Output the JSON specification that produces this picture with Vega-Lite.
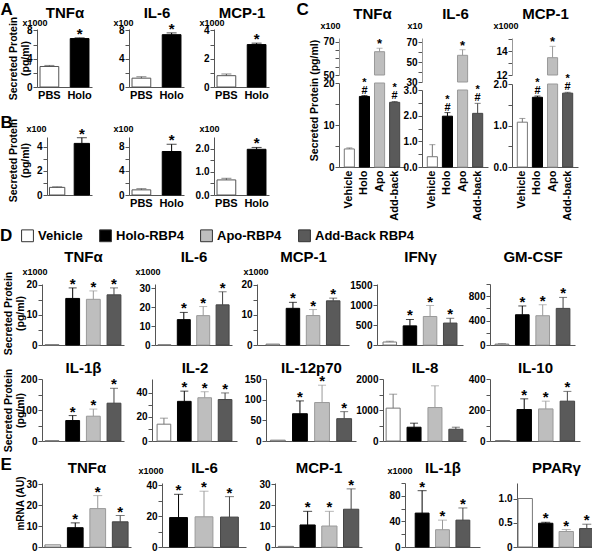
{
"$schema": "https://vega.github.io/schema/vega-lite/v6.json",
"width": 592, "height": 552, "autosize": {"type": "none"}, "padding": 0,
"datasets": {
"A": [
{"p":"TNFα","g":"PBS","v":2.9,"e":3.05,"s":""},
{"p":"TNFα","g":"Holo","v":6.85,"e":6.95,"s":"*"},
{"p":"IL-6","g":"PBS","v":1.25,"e":1.45,"s":""},
{"p":"IL-6","g":"Holo","v":7.4,"e":7.65,"s":"*"},
{"p":"MCP-1","g":"PBS","v":0.8,"e":0.92,"s":""},
{"p":"MCP-1","g":"Holo","v":3.0,"e":3.1,"s":"*"}
],
"B": [
{"p":"TNFα","g":"PBS","v":0.63,"e":0.68,"s":""},
{"p":"TNFα","g":"Holo","v":4.27,"e":4.74,"s":"*"},
{"p":"IL-6","g":"PBS","v":0.85,"e":1.05,"s":""},
{"p":"IL-6","g":"Holo","v":7.2,"e":8.4,"s":"*"},
{"p":"MCP-1","g":"PBS","v":0.65,"e":0.72,"s":""},
{"p":"MCP-1","g":"Holo","v":1.97,"e":2.05,"s":"*"}
],
"C": [
{"p":"TNFα","g":"Vehicle","v":4.3,"e":4.55,"s":""},
{"p":"TNFα","g":"Holo","v":16.8,"e":17.0,"s":"*\n#"},
{"p":"TNFα","g":"Apo","v":64.1,"e":66.2,"s":"*"},
{"p":"TNFα","g":"Add-back","v":15.4,"e":15.6,"s":"*\n#"},
{"p":"IL-6","g":"Vehicle","v":0.4,"e":0.87,"s":""},
{"p":"IL-6","g":"Holo","v":1.98,"e":2.12,"s":"*\n#"},
{"p":"IL-6","g":"Apo","v":56.7,"e":62.3,"s":"*"},
{"p":"IL-6","g":"Add-back","v":2.09,"e":2.48,"s":"*\n#"},
{"p":"MCP-1","g":"Vehicle","v":1.08,"e":1.17,"s":""},
{"p":"MCP-1","g":"Holo","v":1.68,"e":1.71,"s":"*\n#"},
{"p":"MCP-1","g":"Apo","v":13.45,"e":14.4,"s":"*"},
{"p":"MCP-1","g":"Add-back","v":1.78,"e":1.8,"s":"*\n#"}
],
"D": [
{"p":"TNFα","g":"Vehicle","v":0.1,"e":null,"s":""},
{"p":"TNFα","g":"Holo-RBP4","v":15.5,"e":19.0,"s":"*"},
{"p":"TNFα","g":"Apo-RBP4","v":15.2,"e":18.0,"s":"*"},
{"p":"TNFα","g":"Add-Back RBP4","v":16.7,"e":19.0,"s":"*"},
{"p":"IL-6","g":"Vehicle","v":0.1,"e":null,"s":""},
{"p":"IL-6","g":"Holo-RBP4","v":13.4,"e":17.2,"s":"*"},
{"p":"IL-6","g":"Apo-RBP4","v":15.5,"e":20.3,"s":"*"},
{"p":"IL-6","g":"Add-Back RBP4","v":21.2,"e":28.1,"s":"*"},
{"p":"MCP-1","g":"Vehicle","v":0.3,"e":null,"s":""},
{"p":"MCP-1","g":"Holo-RBP4","v":12.2,"e":14.2,"s":"*"},
{"p":"MCP-1","g":"Apo-RBP4","v":9.8,"e":11.8,"s":"*"},
{"p":"MCP-1","g":"Add-Back RBP4","v":14.7,"e":15.6,"s":"*"},
{"p":"IFNγ","g":"Vehicle","v":75,"e":95,"s":""},
{"p":"IFNγ","g":"Holo-RBP4","v":480,"e":640,"s":"*"},
{"p":"IFNγ","g":"Apo-RBP4","v":715,"e":990,"s":"*"},
{"p":"IFNγ","g":"Add-Back RBP4","v":550,"e":670,"s":"*"},
{"p":"GM-CSF","g":"Vehicle","v":15,"e":25,"s":""},
{"p":"GM-CSF","g":"Holo-RBP4","v":496,"e":640,"s":"*"},
{"p":"GM-CSF","g":"Apo-RBP4","v":480,"e":660,"s":"*"},
{"p":"GM-CSF","g":"Add-Back RBP4","v":600,"e":780,"s":"*"},
{"p":"IL-1β","g":"Vehicle","v":1,"e":null,"s":""},
{"p":"IL-1β","g":"Holo-RBP4","v":66,"e":82,"s":"*"},
{"p":"IL-1β","g":"Apo-RBP4","v":80,"e":103,"s":"*"},
{"p":"IL-1β","g":"Add-Back RBP4","v":122,"e":170,"s":"*"},
{"p":"IL-2","g":"Vehicle","v":14,"e":19,"s":""},
{"p":"IL-2","g":"Holo-RBP4","v":33,"e":41.5,"s":"*"},
{"p":"IL-2","g":"Apo-RBP4","v":36,"e":41,"s":"*"},
{"p":"IL-2","g":"Add-Back RBP4","v":34.5,"e":40,"s":"*"},
{"p":"IL-12p70","g":"Vehicle","v":2,"e":null,"s":""},
{"p":"IL-12p70","g":"Holo-RBP4","v":66,"e":97,"s":"*"},
{"p":"IL-12p70","g":"Apo-RBP4","v":93,"e":135,"s":"*"},
{"p":"IL-12p70","g":"Add-Back RBP4","v":54,"e":71,"s":"*"},
{"p":"IL-8","g":"Vehicle","v":1060,"e":1510,"s":""},
{"p":"IL-8","g":"Holo-RBP4","v":445,"e":575,"s":""},
{"p":"IL-8","g":"Apo-RBP4","v":1080,"e":1780,"s":""},
{"p":"IL-8","g":"Add-Back RBP4","v":380,"e":445,"s":""},
{"p":"IL-10","g":"Vehicle","v":3,"e":null,"s":""},
{"p":"IL-10","g":"Holo-RBP4","v":203,"e":272,"s":"*"},
{"p":"IL-10","g":"Apo-RBP4","v":207,"e":257,"s":"*"},
{"p":"IL-10","g":"Add-Back RBP4","v":257,"e":320,"s":"*"}
],
"E": [
{"p":"TNFα","g":"Vehicle","v":1.0,"e":null,"s":""},
{"p":"TNFα","g":"Holo-RBP4","v":9.2,"e":11.5,"s":"*"},
{"p":"TNFα","g":"Apo-RBP4","v":18.3,"e":24.5,"s":"*"},
{"p":"TNFα","g":"Add-Back RBP4","v":12,"e":15,"s":"*"},
{"p":"IL-6","g":"Vehicle","v":0,"e":null,"s":""},
{"p":"IL-6","g":"Holo-RBP4","v":19,"e":34,"s":"*"},
{"p":"IL-6","g":"Apo-RBP4","v":19.5,"e":36,"s":"*"},
{"p":"IL-6","g":"Add-Back RBP4","v":19.3,"e":32.5,"s":"*"},
{"p":"MCP-1","g":"Vehicle","v":0.3,"e":null,"s":""},
{"p":"MCP-1","g":"Holo-RBP4","v":10.5,"e":17,"s":"*"},
{"p":"MCP-1","g":"Apo-RBP4","v":10,"e":17,"s":"*"},
{"p":"MCP-1","g":"Add-Back RBP4","v":18,"e":27.7,"s":"*"},
{"p":"IL-1β","g":"Vehicle","v":0,"e":null,"s":""},
{"p":"IL-1β","g":"Holo-RBP4","v":53,"e":88,"s":"*"},
{"p":"IL-1β","g":"Apo-RBP4","v":27,"e":42,"s":"*"},
{"p":"IL-1β","g":"Add-Back RBP4","v":42,"e":61,"s":"*"},
{"p":"PPARγ","g":"Vehicle","v":1.0,"e":null,"s":""},
{"p":"PPARγ","g":"Holo-RBP4","v":0.49,"e":0.51,"s":"*"},
{"p":"PPARγ","g":"Apo-RBP4","v":0.32,"e":0.36,"s":"*"},
{"p":"PPARγ","g":"Add-Back RBP4","v":0.38,"e":0.47,"s":"*"}
]
},
"resolve": {"scale": {"x": "independent", "y": "independent", "fill": "independent"}, "axis": {"x": "independent", "y": "independent"}, "legend": {"fill": "independent"}},
"layer": [

{"data":{"name":"A"},"transform":[{"filter":"datum.p=='TNFα'"}],"resolve":{"axis":{"x":"independent","y":"independent"}},"layer":[
{"mark":{"type":"bar","strokeWidth":1},"encoding":{
"x":{"field":"g","type":"nominal","sort":null,"scale":{"domain":["PBS","Holo"],"range":[37,92],"paddingInner":0.38,"paddingOuter":0.1},"axis":{"orient":"bottom","offset":-465,"title":"TNFα","titleY":-70}},
"y":{"field":"v","type":"quantitative","scale":{"domain":[0,8.2],"range":[87,29],"nice":false},"axis":{"orient":"left","offset":-37,"values":[0,2,4,6,8],"labelExpr":"datum.value%4==0?datum.label:''","title":"x1000","titleAngle":0,"titleAlign":"left","titleBaseline":"alphabetic","titleX":-15,"titleY":25}},
"fill":{"field":"g","type":"nominal","scale":{"domain":["PBS","Vehicle","Holo","Apo","Add-back","Holo-RBP4","Apo-RBP4","Add-Back RBP4"],"range":["#ffffff","#ffffff","#000000","#bebebe","#5a5a5a","#000000","#bebebe","#5a5a5a"]},"legend":null},
"stroke":{"field":"g","type":"nominal","scale":{"domain":["PBS","Vehicle","Holo","Apo","Add-back","Holo-RBP4","Apo-RBP4","Add-Back RBP4"],"range":["#555555","#777777","#000000","#999999","#444444","#000000","#999999","#444444"]},"legend":null}}},
{"transform":[{"filter":"datum.e!=null"}],"mark":{"type":"rule","strokeWidth":1},"encoding":{"x":{"field":"g","type":"nominal","sort":null,"axis":null},"y":{"field":"v","type":"quantitative","axis":null},"y2":{"field":"e"},"color":{"field":"g","type":"nominal","scale":{"domain":["PBS","Vehicle","Holo","Apo","Add-back","Holo-RBP4","Apo-RBP4","Add-Back RBP4"],"range":["#555555","#777777","#000000","#999999","#444444","#000000","#999999","#444444"]},"legend":null}}},
{"transform":[{"filter":"datum.e!=null"}],"mark":{"type":"tick","size":10,"thickness":1},"encoding":{"x":{"field":"g","type":"nominal","sort":null,"axis":null},"y":{"field":"e","type":"quantitative","axis":null},"color":{"field":"g","type":"nominal","scale":{"domain":["PBS","Vehicle","Holo","Apo","Add-back","Holo-RBP4","Apo-RBP4","Add-Back RBP4"],"range":["#555555","#777777","#000000","#999999","#444444","#000000","#999999","#444444"]},"legend":null}}},
{"transform":[{"filter":"datum.s!=''"}],"mark":{"type":"text","fontSize":15,"fontWeight":"bold","baseline":"bottom","dy":4},"encoding":{
"x":{"field":"g","type":"nominal","sort":null,"axis":{"orient":"bottom","offset":-465,"domain":false,"ticks":false,"labels":false,"title":"A","titleX":0,"titleY":-73,"titleAlign":"left","titleFontSize":17}},
"y":{"field":"e","type":"quantitative","axis":{"orient":"left","offset":-37,"domain":false,"ticks":false,"labels":false,"title":["Secreted Protein","(pg/ml)"],"titleAlign":"center","titleBaseline":"top","titleX":-29,"titleY":58,"titleFontSize":10.5,"titleLineHeight":12}},
"text":{"field":"s"}}}
]},

{"data":{"name":"A"},"transform":[{"filter":"datum.p=='IL-6'"}],"resolve":{"axis":{"x":"independent","y":"independent"}},"layer":[
{"mark":{"type":"bar","strokeWidth":1},"encoding":{
"x":{"field":"g","type":"nominal","sort":null,"scale":{"domain":["PBS","Holo"],"range":[129,184],"paddingInner":0.38,"paddingOuter":0.1},"axis":{"orient":"bottom","offset":-465,"title":"IL-6","titleY":-70}},
"y":{"field":"v","type":"quantitative","scale":{"domain":[0,8.2],"range":[87,29],"nice":false},"axis":{"orient":"left","offset":-129,"values":[0,2,4,6,8],"labelExpr":"datum.value%4==0?datum.label:''","title":"x100","titleAngle":0,"titleAlign":"left","titleBaseline":"alphabetic","titleX":-16,"titleY":25}},
"fill":{"field":"g","type":"nominal","scale":{"domain":["PBS","Vehicle","Holo","Apo","Add-back","Holo-RBP4","Apo-RBP4","Add-Back RBP4"],"range":["#ffffff","#ffffff","#000000","#bebebe","#5a5a5a","#000000","#bebebe","#5a5a5a"]},"legend":null},
"stroke":{"field":"g","type":"nominal","scale":{"domain":["PBS","Vehicle","Holo","Apo","Add-back","Holo-RBP4","Apo-RBP4","Add-Back RBP4"],"range":["#555555","#777777","#000000","#999999","#444444","#000000","#999999","#444444"]},"legend":null}}},
{"transform":[{"filter":"datum.e!=null"}],"mark":{"type":"rule","strokeWidth":1},"encoding":{"x":{"field":"g","type":"nominal","sort":null,"axis":null},"y":{"field":"v","type":"quantitative","axis":null},"y2":{"field":"e"},"color":{"field":"g","type":"nominal","scale":{"domain":["PBS","Vehicle","Holo","Apo","Add-back","Holo-RBP4","Apo-RBP4","Add-Back RBP4"],"range":["#555555","#777777","#000000","#999999","#444444","#000000","#999999","#444444"]},"legend":null}}},
{"transform":[{"filter":"datum.e!=null"}],"mark":{"type":"tick","size":10,"thickness":1},"encoding":{"x":{"field":"g","type":"nominal","sort":null,"axis":null},"y":{"field":"e","type":"quantitative","axis":null},"color":{"field":"g","type":"nominal","scale":{"domain":["PBS","Vehicle","Holo","Apo","Add-back","Holo-RBP4","Apo-RBP4","Add-Back RBP4"],"range":["#555555","#777777","#000000","#999999","#444444","#000000","#999999","#444444"]},"legend":null}}},
{"transform":[{"filter":"datum.s!=''"}],"mark":{"type":"text","fontSize":15,"fontWeight":"bold","baseline":"bottom","dy":4},"encoding":{"x":{"field":"g","type":"nominal","sort":null,"axis":null},"y":{"field":"e","type":"quantitative","axis":null},"text":{"field":"s"}}}
]},

{"data":{"name":"A"},"transform":[{"filter":"datum.p=='MCP-1'"}],"resolve":{"axis":{"x":"independent","y":"independent"}},"layer":[
{"mark":{"type":"bar","strokeWidth":1},"encoding":{
"x":{"field":"g","type":"nominal","sort":null,"scale":{"domain":["PBS","Holo"],"range":[214,269],"paddingInner":0.38,"paddingOuter":0.1},"axis":{"orient":"bottom","offset":-465,"title":"MCP-1","titleY":-70}},
"y":{"field":"v","type":"quantitative","scale":{"domain":[0,4.1],"range":[87,29],"nice":false},"axis":{"orient":"left","offset":-214,"values":[0,1,2,3,4],"labelExpr":"datum.value%2==0?datum.label:''","title":"x1000","titleAngle":0,"titleAlign":"left","titleBaseline":"alphabetic","titleX":-15,"titleY":25}},
"fill":{"field":"g","type":"nominal","scale":{"domain":["PBS","Vehicle","Holo","Apo","Add-back","Holo-RBP4","Apo-RBP4","Add-Back RBP4"],"range":["#ffffff","#ffffff","#000000","#bebebe","#5a5a5a","#000000","#bebebe","#5a5a5a"]},"legend":null},
"stroke":{"field":"g","type":"nominal","scale":{"domain":["PBS","Vehicle","Holo","Apo","Add-back","Holo-RBP4","Apo-RBP4","Add-Back RBP4"],"range":["#555555","#777777","#000000","#999999","#444444","#000000","#999999","#444444"]},"legend":null}}},
{"transform":[{"filter":"datum.e!=null"}],"mark":{"type":"rule","strokeWidth":1},"encoding":{"x":{"field":"g","type":"nominal","sort":null,"axis":null},"y":{"field":"v","type":"quantitative","axis":null},"y2":{"field":"e"},"color":{"field":"g","type":"nominal","scale":{"domain":["PBS","Vehicle","Holo","Apo","Add-back","Holo-RBP4","Apo-RBP4","Add-Back RBP4"],"range":["#555555","#777777","#000000","#999999","#444444","#000000","#999999","#444444"]},"legend":null}}},
{"transform":[{"filter":"datum.e!=null"}],"mark":{"type":"tick","size":10,"thickness":1},"encoding":{"x":{"field":"g","type":"nominal","sort":null,"axis":null},"y":{"field":"e","type":"quantitative","axis":null},"color":{"field":"g","type":"nominal","scale":{"domain":["PBS","Vehicle","Holo","Apo","Add-back","Holo-RBP4","Apo-RBP4","Add-Back RBP4"],"range":["#555555","#777777","#000000","#999999","#444444","#000000","#999999","#444444"]},"legend":null}}},
{"transform":[{"filter":"datum.s!=''"}],"mark":{"type":"text","fontSize":15,"fontWeight":"bold","baseline":"bottom","dy":4},"encoding":{"x":{"field":"g","type":"nominal","sort":null,"axis":null},"y":{"field":"e","type":"quantitative","axis":null},"text":{"field":"s"}}}
]},

{"data":{"name":"B"},"transform":[{"filter":"datum.p=='TNFα'"}],"resolve":{"axis":{"x":"independent","y":"independent"}},"layer":[
{"mark":{"type":"bar","strokeWidth":1},"encoding":{
"x":{"field":"g","type":"nominal","sort":null,"scale":{"domain":["PBS","Holo"],"range":[47,92],"paddingInner":0.38,"paddingOuter":0.1},"axis":{"orient":"bottom","offset":-357,"labels":false,"title":null}},
"y":{"field":"v","type":"quantitative","scale":{"domain":[0,4.8],"range":[195,137],"nice":false},"axis":{"orient":"left","offset":-47,"values":[0,1,2,3,4],"labelExpr":"datum.value%2==0?datum.label:''","title":"x100","titleAngle":0,"titleAlign":"left","titleBaseline":"alphabetic","titleX":-21,"titleY":131}},
"fill":{"field":"g","type":"nominal","scale":{"domain":["PBS","Vehicle","Holo","Apo","Add-back","Holo-RBP4","Apo-RBP4","Add-Back RBP4"],"range":["#ffffff","#ffffff","#000000","#bebebe","#5a5a5a","#000000","#bebebe","#5a5a5a"]},"legend":null},
"stroke":{"field":"g","type":"nominal","scale":{"domain":["PBS","Vehicle","Holo","Apo","Add-back","Holo-RBP4","Apo-RBP4","Add-Back RBP4"],"range":["#555555","#777777","#000000","#999999","#444444","#000000","#999999","#444444"]},"legend":null}}},
{"transform":[{"filter":"datum.e!=null"}],"mark":{"type":"rule","strokeWidth":1},"encoding":{"x":{"field":"g","type":"nominal","sort":null,"axis":null},"y":{"field":"v","type":"quantitative","axis":null},"y2":{"field":"e"},"color":{"field":"g","type":"nominal","scale":{"domain":["PBS","Vehicle","Holo","Apo","Add-back","Holo-RBP4","Apo-RBP4","Add-Back RBP4"],"range":["#555555","#777777","#000000","#999999","#444444","#000000","#999999","#444444"]},"legend":null}}},
{"transform":[{"filter":"datum.e!=null"}],"mark":{"type":"tick","size":10,"thickness":1},"encoding":{"x":{"field":"g","type":"nominal","sort":null,"axis":null},"y":{"field":"e","type":"quantitative","axis":null},"color":{"field":"g","type":"nominal","scale":{"domain":["PBS","Vehicle","Holo","Apo","Add-back","Holo-RBP4","Apo-RBP4","Add-Back RBP4"],"range":["#555555","#777777","#000000","#999999","#444444","#000000","#999999","#444444"]},"legend":null}}},
{"transform":[{"filter":"datum.s!=''"}],"mark":{"type":"text","fontSize":15,"fontWeight":"bold","baseline":"bottom","dy":4},"encoding":{
"x":{"field":"g","type":"nominal","sort":null,"axis":{"orient":"bottom","offset":-357,"domain":false,"ticks":false,"labels":false,"title":"B","titleX":0,"titleY":-68,"titleAlign":"left","titleFontSize":17}},
"y":{"field":"e","type":"quantitative","axis":{"orient":"left","offset":-47,"domain":false,"ticks":false,"labels":false,"title":["Secreted Protein","(pg/ml)"],"titleAlign":"center","titleBaseline":"top","titleX":-39,"titleY":160,"titleFontSize":10.5,"titleLineHeight":12}},
"text":{"field":"s"}}}
]},

{"data":{"name":"B"},"transform":[{"filter":"datum.p=='IL-6'"}],"resolve":{"axis":{"x":"independent","y":"independent"}},"layer":[
{"mark":{"type":"bar","strokeWidth":1},"encoding":{
"x":{"field":"g","type":"nominal","sort":null,"scale":{"domain":["PBS","Holo"],"range":[129,184],"paddingInner":0.38,"paddingOuter":0.1},"axis":{"orient":"bottom","offset":-357,"title":null}},
"y":{"field":"v","type":"quantitative","scale":{"domain":[0,9.6],"range":[195,137],"nice":false},"axis":{"orient":"left","offset":-129,"values":[0,2,4,6,8],"labelExpr":"datum.value%4==0?datum.label:''","title":"x100","titleAngle":0,"titleAlign":"left","titleBaseline":"alphabetic","titleX":-16,"titleY":131}},
"fill":{"field":"g","type":"nominal","scale":{"domain":["PBS","Vehicle","Holo","Apo","Add-back","Holo-RBP4","Apo-RBP4","Add-Back RBP4"],"range":["#ffffff","#ffffff","#000000","#bebebe","#5a5a5a","#000000","#bebebe","#5a5a5a"]},"legend":null},
"stroke":{"field":"g","type":"nominal","scale":{"domain":["PBS","Vehicle","Holo","Apo","Add-back","Holo-RBP4","Apo-RBP4","Add-Back RBP4"],"range":["#555555","#777777","#000000","#999999","#444444","#000000","#999999","#444444"]},"legend":null}}},
{"transform":[{"filter":"datum.e!=null"}],"mark":{"type":"rule","strokeWidth":1},"encoding":{"x":{"field":"g","type":"nominal","sort":null,"axis":null},"y":{"field":"v","type":"quantitative","axis":null},"y2":{"field":"e"},"color":{"field":"g","type":"nominal","scale":{"domain":["PBS","Vehicle","Holo","Apo","Add-back","Holo-RBP4","Apo-RBP4","Add-Back RBP4"],"range":["#555555","#777777","#000000","#999999","#444444","#000000","#999999","#444444"]},"legend":null}}},
{"transform":[{"filter":"datum.e!=null"}],"mark":{"type":"tick","size":10,"thickness":1},"encoding":{"x":{"field":"g","type":"nominal","sort":null,"axis":null},"y":{"field":"e","type":"quantitative","axis":null},"color":{"field":"g","type":"nominal","scale":{"domain":["PBS","Vehicle","Holo","Apo","Add-back","Holo-RBP4","Apo-RBP4","Add-Back RBP4"],"range":["#555555","#777777","#000000","#999999","#444444","#000000","#999999","#444444"]},"legend":null}}},
{"transform":[{"filter":"datum.s!=''"}],"mark":{"type":"text","fontSize":15,"fontWeight":"bold","baseline":"bottom","dy":4},"encoding":{"x":{"field":"g","type":"nominal","sort":null,"axis":null},"y":{"field":"e","type":"quantitative","axis":null},"text":{"field":"s"}}}
]},

{"data":{"name":"B"},"transform":[{"filter":"datum.p=='MCP-1'"}],"resolve":{"axis":{"x":"independent","y":"independent"}},"layer":[
{"mark":{"type":"bar","strokeWidth":1},"encoding":{
"x":{"field":"g","type":"nominal","sort":null,"scale":{"domain":["PBS","Holo"],"range":[214,269],"paddingInner":0.38,"paddingOuter":0.1},"axis":{"orient":"bottom","offset":-357,"title":null}},
"y":{"field":"v","type":"quantitative","scale":{"domain":[0,2.5],"range":[195,137],"nice":false},"axis":{"orient":"left","offset":-214,"values":[0,0.5,1,1.5,2],"labelExpr":"datum.value%1==0?datum.label:''","title":"x100","titleAngle":0,"titleAlign":"left","titleBaseline":"alphabetic","titleX":-15,"titleY":131}},
"fill":{"field":"g","type":"nominal","scale":{"domain":["PBS","Vehicle","Holo","Apo","Add-back","Holo-RBP4","Apo-RBP4","Add-Back RBP4"],"range":["#ffffff","#ffffff","#000000","#bebebe","#5a5a5a","#000000","#bebebe","#5a5a5a"]},"legend":null},
"stroke":{"field":"g","type":"nominal","scale":{"domain":["PBS","Vehicle","Holo","Apo","Add-back","Holo-RBP4","Apo-RBP4","Add-Back RBP4"],"range":["#555555","#777777","#000000","#999999","#444444","#000000","#999999","#444444"]},"legend":null}}},
{"transform":[{"filter":"datum.e!=null"}],"mark":{"type":"rule","strokeWidth":1},"encoding":{"x":{"field":"g","type":"nominal","sort":null,"axis":null},"y":{"field":"v","type":"quantitative","axis":null},"y2":{"field":"e"},"color":{"field":"g","type":"nominal","scale":{"domain":["PBS","Vehicle","Holo","Apo","Add-back","Holo-RBP4","Apo-RBP4","Add-Back RBP4"],"range":["#555555","#777777","#000000","#999999","#444444","#000000","#999999","#444444"]},"legend":null}}},
{"transform":[{"filter":"datum.e!=null"}],"mark":{"type":"tick","size":10,"thickness":1},"encoding":{"x":{"field":"g","type":"nominal","sort":null,"axis":null},"y":{"field":"e","type":"quantitative","axis":null},"color":{"field":"g","type":"nominal","scale":{"domain":["PBS","Vehicle","Holo","Apo","Add-back","Holo-RBP4","Apo-RBP4","Add-Back RBP4"],"range":["#555555","#777777","#000000","#999999","#444444","#000000","#999999","#444444"]},"legend":null}}},
{"transform":[{"filter":"datum.s!=''"}],"mark":{"type":"text","fontSize":15,"fontWeight":"bold","baseline":"bottom","dy":4},"encoding":{"x":{"field":"g","type":"nominal","sort":null,"axis":null},"y":{"field":"e","type":"quantitative","axis":null},"text":{"field":"s"}}}
]},

{"data":{"name":"C"},"transform":[{"filter":"datum.p=='TNFα' && datum.g=='Apo'"}],"resolve":{"axis":{"x":"independent","y":"independent"}},"layer":[
{"mark":{"type":"bar","strokeWidth":1},"encoding":{
"x":{"field":"g","type":"nominal","sort":null,"scale":{"domain":["Vehicle","Holo","Apo","Add-back"],"range":[339,405],"paddingInner":0.33,"paddingOuter":0.35},"axis":null},
"y":{"field":"v","type":"quantitative","scale":{"domain":[50,72.4],"range":[75,38],"nice":false,"zero":false,"clamp":true},"axis":{"orient":"left","offset":-339,"values":[50,55,60,65,70],"labelExpr":"datum.value%20==10?datum.label:''","title":"x100","titleAngle":0,"titleAlign":"left","titleBaseline":"alphabetic","titleX":-19,"titleY":28,"domainColor":"#999"}},
"y2":{"datum":50},
"fill":{"field":"g","type":"nominal","scale":{"domain":["PBS","Vehicle","Holo","Apo","Add-back","Holo-RBP4","Apo-RBP4","Add-Back RBP4"],"range":["#ffffff","#ffffff","#000000","#bebebe","#5a5a5a","#000000","#bebebe","#5a5a5a"]},"legend":null},
"stroke":{"field":"g","type":"nominal","scale":{"domain":["PBS","Vehicle","Holo","Apo","Add-back","Holo-RBP4","Apo-RBP4","Add-Back RBP4"],"range":["#555555","#777777","#000000","#999999","#444444","#000000","#999999","#444444"]},"legend":null}}},
{"mark":{"type":"rule","strokeWidth":1},"encoding":{"x":{"field":"g","type":"nominal","sort":null,"axis":null},"y":{"field":"v","type":"quantitative","axis":null},"y2":{"field":"e"},"color":{"field":"g","type":"nominal","scale":{"domain":["PBS","Vehicle","Holo","Apo","Add-back","Holo-RBP4","Apo-RBP4","Add-Back RBP4"],"range":["#555555","#777777","#000000","#999999","#444444","#000000","#999999","#444444"]},"legend":null}}},
{"mark":{"type":"tick","size":6,"thickness":1},"encoding":{"x":{"field":"g","type":"nominal","sort":null,"axis":null},"y":{"field":"e","type":"quantitative","axis":null},"color":{"field":"g","type":"nominal","scale":{"domain":["PBS","Vehicle","Holo","Apo","Add-back","Holo-RBP4","Apo-RBP4","Add-Back RBP4"],"range":["#555555","#777777","#000000","#999999","#444444","#000000","#999999","#444444"]},"legend":null}}},
{"mark":{"type":"text","fontSize":13,"fontWeight":"bold","baseline":"bottom","dy":3},"encoding":{"x":{"field":"g","type":"nominal","sort":null,"axis":null},"y":{"field":"e","type":"quantitative","axis":null},"text":{"field":"s"}}}
]},

{"data":{"name":"C"},"transform":[{"filter":"datum.p=='TNFα'"}],"resolve":{"axis":{"x":"independent","y":"independent"}},"layer":[
{"mark":{"type":"bar","strokeWidth":1},"encoding":{
"x":{"field":"g","type":"nominal","sort":null,"scale":{"domain":["Vehicle","Holo","Apo","Add-back"],"range":[339,405],"paddingInner":0.33,"paddingOuter":0.35},"axis":{"orient":"bottom","offset":-385,"labelAngle":-90,"labelPadding":3,"title":"TNFα","titleY":-149}},
"y":{"field":"v","type":"quantitative","scale":{"domain":[0,20],"range":[167,83],"nice":false,"clamp":true},"axis":{"orient":"left","offset":-339,"values":[0,5,10,15,20],"labelExpr":"datum.value%10==0?datum.label:''","title":null}},
"fill":{"field":"g","type":"nominal","scale":{"domain":["PBS","Vehicle","Holo","Apo","Add-back","Holo-RBP4","Apo-RBP4","Add-Back RBP4"],"range":["#ffffff","#ffffff","#000000","#bebebe","#5a5a5a","#000000","#bebebe","#5a5a5a"]},"legend":null},
"stroke":{"field":"g","type":"nominal","scale":{"domain":["PBS","Vehicle","Holo","Apo","Add-back","Holo-RBP4","Apo-RBP4","Add-Back RBP4"],"range":["#555555","#777777","#000000","#999999","#444444","#000000","#999999","#444444"]},"legend":null}}},
{"transform":[{"filter":"datum.e!=null && datum.g!='Apo'"}],"mark":{"type":"rule","strokeWidth":1},"encoding":{"x":{"field":"g","type":"nominal","sort":null,"axis":null},"y":{"field":"v","type":"quantitative","axis":null},"y2":{"field":"e"},"color":{"field":"g","type":"nominal","scale":{"domain":["PBS","Vehicle","Holo","Apo","Add-back","Holo-RBP4","Apo-RBP4","Add-Back RBP4"],"range":["#555555","#777777","#000000","#999999","#444444","#000000","#999999","#444444"]},"legend":null}}},
{"transform":[{"filter":"datum.e!=null && datum.g!='Apo'"}],"mark":{"type":"tick","size":6,"thickness":1},"encoding":{"x":{"field":"g","type":"nominal","sort":null,"axis":null},"y":{"field":"e","type":"quantitative","axis":null},"color":{"field":"g","type":"nominal","scale":{"domain":["PBS","Vehicle","Holo","Apo","Add-back","Holo-RBP4","Apo-RBP4","Add-Back RBP4"],"range":["#555555","#777777","#000000","#999999","#444444","#000000","#999999","#444444"]},"legend":null}}},
{"transform":[{"filter":"datum.s!='' && datum.g!='Apo'"}],"mark":{"type":"text","fontSize":11,"fontWeight":"bold","baseline":"bottom","dy":-8,"lineBreak":"\n","lineHeight":8},"encoding":{
"x":{"field":"g","type":"nominal","sort":null,"axis":{"orient":"bottom","offset":-385,"domain":false,"ticks":false,"labels":false,"title":"C","titleX":296,"titleY":-153,"titleAlign":"left","titleFontSize":17}},
"y":{"field":"e","type":"quantitative","axis":{"orient":"left","offset":-339,"domain":false,"ticks":false,"labels":false,"title":"Secreted Protein (pg/ml)","titleAlign":"center","titleBaseline":"top","titleX":-30,"titleY":100,"titleFontSize":10.5}},
"text":{"field":"s"}}}
]},

{"data":{"name":"C"},"transform":[{"filter":"datum.p=='IL-6' && datum.g=='Apo'"}],"resolve":{"axis":{"x":"independent","y":"independent"}},"layer":[
{"mark":{"type":"bar","strokeWidth":1},"encoding":{
"x":{"field":"g","type":"nominal","sort":null,"scale":{"domain":["Vehicle","Holo","Apo","Add-back"],"range":[422,488],"paddingInner":0.33,"paddingOuter":0.35},"axis":null},
"y":{"field":"v","type":"quantitative","scale":{"domain":[30,74],"range":[82,38],"nice":false,"zero":false,"clamp":true},"axis":{"orient":"left","offset":-422,"values":[30,40,50,60,70],"labelExpr":"datum.value%20==10?datum.label:''","title":"x10","titleAngle":0,"titleAlign":"left","titleBaseline":"alphabetic","titleX":-15,"titleY":28,"domainColor":"#999"}},
"y2":{"datum":30},
"fill":{"field":"g","type":"nominal","scale":{"domain":["PBS","Vehicle","Holo","Apo","Add-back","Holo-RBP4","Apo-RBP4","Add-Back RBP4"],"range":["#ffffff","#ffffff","#000000","#bebebe","#5a5a5a","#000000","#bebebe","#5a5a5a"]},"legend":null},
"stroke":{"field":"g","type":"nominal","scale":{"domain":["PBS","Vehicle","Holo","Apo","Add-back","Holo-RBP4","Apo-RBP4","Add-Back RBP4"],"range":["#555555","#777777","#000000","#999999","#444444","#000000","#999999","#444444"]},"legend":null}}},
{"mark":{"type":"rule","strokeWidth":1},"encoding":{"x":{"field":"g","type":"nominal","sort":null,"axis":null},"y":{"field":"v","type":"quantitative","axis":null},"y2":{"field":"e"},"color":{"field":"g","type":"nominal","scale":{"domain":["PBS","Vehicle","Holo","Apo","Add-back","Holo-RBP4","Apo-RBP4","Add-Back RBP4"],"range":["#555555","#777777","#000000","#999999","#444444","#000000","#999999","#444444"]},"legend":null}}},
{"mark":{"type":"tick","size":6,"thickness":1},"encoding":{"x":{"field":"g","type":"nominal","sort":null,"axis":null},"y":{"field":"e","type":"quantitative","axis":null},"color":{"field":"g","type":"nominal","scale":{"domain":["PBS","Vehicle","Holo","Apo","Add-back","Holo-RBP4","Apo-RBP4","Add-Back RBP4"],"range":["#555555","#777777","#000000","#999999","#444444","#000000","#999999","#444444"]},"legend":null}}},
{"mark":{"type":"text","fontSize":13,"fontWeight":"bold","baseline":"bottom","dy":3},"encoding":{"x":{"field":"g","type":"nominal","sort":null,"axis":null},"y":{"field":"e","type":"quantitative","axis":null},"text":{"field":"s"}}}
]},

{"data":{"name":"C"},"transform":[{"filter":"datum.p=='IL-6'"}],"resolve":{"axis":{"x":"independent","y":"independent"}},"layer":[
{"mark":{"type":"bar","strokeWidth":1},"encoding":{
"x":{"field":"g","type":"nominal","sort":null,"scale":{"domain":["Vehicle","Holo","Apo","Add-back"],"range":[422,488],"paddingInner":0.33,"paddingOuter":0.35},"axis":{"orient":"bottom","offset":-385,"labelAngle":-90,"labelPadding":3,"title":"IL-6","titleY":-149}},
"y":{"field":"v","type":"quantitative","scale":{"domain":[0,3],"range":[167,90],"nice":false,"clamp":true},"axis":{"orient":"left","offset":-422,"values":[0,0.5,1,1.5,2,2.5,3],"labelExpr":"datum.value%1==0?datum.label:''","title":null}},
"fill":{"field":"g","type":"nominal","scale":{"domain":["PBS","Vehicle","Holo","Apo","Add-back","Holo-RBP4","Apo-RBP4","Add-Back RBP4"],"range":["#ffffff","#ffffff","#000000","#bebebe","#5a5a5a","#000000","#bebebe","#5a5a5a"]},"legend":null},
"stroke":{"field":"g","type":"nominal","scale":{"domain":["PBS","Vehicle","Holo","Apo","Add-back","Holo-RBP4","Apo-RBP4","Add-Back RBP4"],"range":["#555555","#777777","#000000","#999999","#444444","#000000","#999999","#444444"]},"legend":null}}},
{"transform":[{"filter":"datum.e!=null && datum.g!='Apo'"}],"mark":{"type":"rule","strokeWidth":1},"encoding":{"x":{"field":"g","type":"nominal","sort":null,"axis":null},"y":{"field":"v","type":"quantitative","axis":null},"y2":{"field":"e"},"color":{"field":"g","type":"nominal","scale":{"domain":["PBS","Vehicle","Holo","Apo","Add-back","Holo-RBP4","Apo-RBP4","Add-Back RBP4"],"range":["#555555","#777777","#000000","#999999","#444444","#000000","#999999","#444444"]},"legend":null}}},
{"transform":[{"filter":"datum.e!=null && datum.g!='Apo'"}],"mark":{"type":"tick","size":6,"thickness":1},"encoding":{"x":{"field":"g","type":"nominal","sort":null,"axis":null},"y":{"field":"e","type":"quantitative","axis":null},"color":{"field":"g","type":"nominal","scale":{"domain":["PBS","Vehicle","Holo","Apo","Add-back","Holo-RBP4","Apo-RBP4","Add-Back RBP4"],"range":["#555555","#777777","#000000","#999999","#444444","#000000","#999999","#444444"]},"legend":null}}},
{"transform":[{"filter":"datum.s!='' && datum.g!='Apo'"}],"mark":{"type":"text","fontSize":11,"fontWeight":"bold","baseline":"bottom","dy":-8,"lineBreak":"\n","lineHeight":8},"encoding":{"x":{"field":"g","type":"nominal","sort":null,"axis":null},"y":{"field":"e","type":"quantitative","axis":null},"text":{"field":"s"}}}
]},

{"data":{"name":"C"},"transform":[{"filter":"datum.p=='MCP-1' && datum.g=='Apo'"}],"resolve":{"axis":{"x":"independent","y":"independent"}},"layer":[
{"mark":{"type":"bar","strokeWidth":1},"encoding":{
"x":{"field":"g","type":"nominal","sort":null,"scale":{"domain":["Vehicle","Holo","Apo","Add-back"],"range":[512,578],"paddingInner":0.33,"paddingOuter":0.35},"axis":null},
"y":{"field":"v","type":"quantitative","scale":{"domain":[12,15.1],"range":[75,38],"nice":false,"zero":false,"clamp":true},"axis":{"orient":"left","offset":-512,"values":[12,13,14,15],"labelExpr":"datum.value%2==0?datum.label:''","title":"x1000","titleAngle":0,"titleAlign":"left","titleBaseline":"alphabetic","titleX":-19,"titleY":28,"domainColor":"#999"}},
"y2":{"datum":12},
"fill":{"field":"g","type":"nominal","scale":{"domain":["PBS","Vehicle","Holo","Apo","Add-back","Holo-RBP4","Apo-RBP4","Add-Back RBP4"],"range":["#ffffff","#ffffff","#000000","#bebebe","#5a5a5a","#000000","#bebebe","#5a5a5a"]},"legend":null},
"stroke":{"field":"g","type":"nominal","scale":{"domain":["PBS","Vehicle","Holo","Apo","Add-back","Holo-RBP4","Apo-RBP4","Add-Back RBP4"],"range":["#555555","#777777","#000000","#999999","#444444","#000000","#999999","#444444"]},"legend":null}}},
{"mark":{"type":"rule","strokeWidth":1},"encoding":{"x":{"field":"g","type":"nominal","sort":null,"axis":null},"y":{"field":"v","type":"quantitative","axis":null},"y2":{"field":"e"},"color":{"field":"g","type":"nominal","scale":{"domain":["PBS","Vehicle","Holo","Apo","Add-back","Holo-RBP4","Apo-RBP4","Add-Back RBP4"],"range":["#555555","#777777","#000000","#999999","#444444","#000000","#999999","#444444"]},"legend":null}}},
{"mark":{"type":"tick","size":6,"thickness":1},"encoding":{"x":{"field":"g","type":"nominal","sort":null,"axis":null},"y":{"field":"e","type":"quantitative","axis":null},"color":{"field":"g","type":"nominal","scale":{"domain":["PBS","Vehicle","Holo","Apo","Add-back","Holo-RBP4","Apo-RBP4","Add-Back RBP4"],"range":["#555555","#777777","#000000","#999999","#444444","#000000","#999999","#444444"]},"legend":null}}},
{"mark":{"type":"text","fontSize":13,"fontWeight":"bold","baseline":"bottom","dy":3},"encoding":{"x":{"field":"g","type":"nominal","sort":null,"axis":null},"y":{"field":"e","type":"quantitative","axis":null},"text":{"field":"s"}}}
]},

{"data":{"name":"C"},"transform":[{"filter":"datum.p=='MCP-1'"}],"resolve":{"axis":{"x":"independent","y":"independent"}},"layer":[
{"mark":{"type":"bar","strokeWidth":1},"encoding":{
"x":{"field":"g","type":"nominal","sort":null,"scale":{"domain":["Vehicle","Holo","Apo","Add-back"],"range":[512,578],"paddingInner":0.33,"paddingOuter":0.35},"axis":{"orient":"bottom","offset":-385,"labelAngle":-90,"labelPadding":3,"title":"MCP-1","titleY":-149}},
"y":{"field":"v","type":"quantitative","scale":{"domain":[0,2],"range":[167,84],"nice":false,"clamp":true},"axis":{"orient":"left","offset":-512,"values":[0,0.5,1,1.5,2],"labelExpr":"datum.value%1==0?datum.label:''","title":null}},
"fill":{"field":"g","type":"nominal","scale":{"domain":["PBS","Vehicle","Holo","Apo","Add-back","Holo-RBP4","Apo-RBP4","Add-Back RBP4"],"range":["#ffffff","#ffffff","#000000","#bebebe","#5a5a5a","#000000","#bebebe","#5a5a5a"]},"legend":null},
"stroke":{"field":"g","type":"nominal","scale":{"domain":["PBS","Vehicle","Holo","Apo","Add-back","Holo-RBP4","Apo-RBP4","Add-Back RBP4"],"range":["#555555","#777777","#000000","#999999","#444444","#000000","#999999","#444444"]},"legend":null}}},
{"transform":[{"filter":"datum.e!=null && datum.g!='Apo'"}],"mark":{"type":"rule","strokeWidth":1},"encoding":{"x":{"field":"g","type":"nominal","sort":null,"axis":null},"y":{"field":"v","type":"quantitative","axis":null},"y2":{"field":"e"},"color":{"field":"g","type":"nominal","scale":{"domain":["PBS","Vehicle","Holo","Apo","Add-back","Holo-RBP4","Apo-RBP4","Add-Back RBP4"],"range":["#555555","#777777","#000000","#999999","#444444","#000000","#999999","#444444"]},"legend":null}}},
{"transform":[{"filter":"datum.e!=null && datum.g!='Apo'"}],"mark":{"type":"tick","size":6,"thickness":1},"encoding":{"x":{"field":"g","type":"nominal","sort":null,"axis":null},"y":{"field":"e","type":"quantitative","axis":null},"color":{"field":"g","type":"nominal","scale":{"domain":["PBS","Vehicle","Holo","Apo","Add-back","Holo-RBP4","Apo-RBP4","Add-Back RBP4"],"range":["#555555","#777777","#000000","#999999","#444444","#000000","#999999","#444444"]},"legend":null}}},
{"transform":[{"filter":"datum.s!='' && datum.g!='Apo'"}],"mark":{"type":"text","fontSize":11,"fontWeight":"bold","baseline":"bottom","dy":-8,"lineBreak":"\n","lineHeight":8},"encoding":{"x":{"field":"g","type":"nominal","sort":null,"axis":null},"y":{"field":"e","type":"quantitative","axis":null},"text":{"field":"s"}}}
]},

{"data":{"name":"D"},"transform":[{"filter":"datum.p=='TNFα'"}],"resolve":{"axis":{"x":"independent","y":"independent"}},"layer":[
{"mark":{"type":"bar","strokeWidth":1},"encoding":{
"x":{"field":"g","type":"nominal","sort":null,"scale":{"domain":["Vehicle","Holo-RBP4","Apo-RBP4","Add-Back RBP4"],"range":[42,124],"paddingInner":0.33,"paddingOuter":0.15},"axis":{"orient":"bottom","offset":-207,"labels":false,"title":"TNFα","titleY":-84}},
"y":{"field":"v","type":"quantitative","scale":{"domain":[0,20.3],"range":[345,284],"nice":false},"axis":{"orient":"left","offset":-42,"values":[0,5,10,15,20],"labelExpr":"datum.value%10==0?datum.label:''","title":"x1000","titleAngle":0,"titleAlign":"left","titleBaseline":"alphabetic","titleX":-20,"titleY":274}},
"fill":{"field":"g","type":"nominal","scale":{"domain":["PBS","Vehicle","Holo","Apo","Add-back","Holo-RBP4","Apo-RBP4","Add-Back RBP4"],"range":["#ffffff","#ffffff","#000000","#bebebe","#5a5a5a","#000000","#bebebe","#5a5a5a"]},
"legend":{"title":"D","titleOrient":"left","titleFontSize":17,"titleFontWeight":"bold","titleColor":"#000","titlePadding":8,"orient":"none","legendX":0,"legendY":229,"direction":"horizontal","values":["Vehicle","Holo-RBP4","Apo-RBP4","Add-Back RBP4"],"symbolType":"square","symbolSize":140,"symbolStrokeColor":"#333","symbolStrokeWidth":1,"labelFontSize":13,"labelFontWeight":"bold","labelColor":"#000","columnPadding":14,"labelOffset":4}},
"stroke":{"field":"g","type":"nominal","scale":{"domain":["PBS","Vehicle","Holo","Apo","Add-back","Holo-RBP4","Apo-RBP4","Add-Back RBP4"],"range":["#555555","#777777","#000000","#999999","#444444","#000000","#999999","#444444"]},"legend":null}}},
{"transform":[{"filter":"datum.e!=null"}],"mark":{"type":"rule","strokeWidth":1},"encoding":{"x":{"field":"g","type":"nominal","sort":null,"axis":null},"y":{"field":"v","type":"quantitative","axis":null},"y2":{"field":"e"},"color":{"field":"g","type":"nominal","scale":{"domain":["PBS","Vehicle","Holo","Apo","Add-back","Holo-RBP4","Apo-RBP4","Add-Back RBP4"],"range":["#555555","#777777","#000000","#999999","#444444","#000000","#999999","#444444"]},"legend":null}}},
{"transform":[{"filter":"datum.e!=null"}],"mark":{"type":"tick","size":8,"thickness":1},"encoding":{"x":{"field":"g","type":"nominal","sort":null,"axis":null},"y":{"field":"e","type":"quantitative","axis":null},"color":{"field":"g","type":"nominal","scale":{"domain":["PBS","Vehicle","Holo","Apo","Add-back","Holo-RBP4","Apo-RBP4","Add-Back RBP4"],"range":["#555555","#777777","#000000","#999999","#444444","#000000","#999999","#444444"]},"legend":null}}},
{"transform":[{"filter":"datum.s!=''"}],"mark":{"type":"text","fontSize":15,"fontWeight":"bold","baseline":"bottom","dy":4},"encoding":{
"x":{"field":"g","type":"nominal","sort":null,"axis":null},
"y":{"field":"e","type":"quantitative","axis":{"orient":"left","offset":-42,"domain":false,"ticks":false,"labels":false,"title":["Secreted Protein","(pg/ml)"],"titleAlign":"center","titleBaseline":"top","titleX":-39,"titleY":313,"titleFontSize":10.5,"titleLineHeight":12}},
"text":{"field":"s"}}}
]},

{"data":{"name":"D"},"transform":[{"filter":"datum.p=='IL-6'"}],"resolve":{"axis":{"x":"independent","y":"independent"}},"layer":[
{"mark":{"type":"bar","strokeWidth":1},"encoding":{
"x":{"field":"g","type":"nominal","sort":null,"scale":{"domain":["Vehicle","Holo-RBP4","Apo-RBP4","Add-Back RBP4"],"range":[155,232],"paddingInner":0.33,"paddingOuter":0.15},"axis":{"orient":"bottom","offset":-207,"labels":false,"title":"IL-6","titleY":-84}},
"y":{"field":"v","type":"quantitative","scale":{"domain":[0,32.2],"range":[345,284],"nice":false},"axis":{"orient":"left","offset":-155,"values":[0,10,20,30],"title":"x1000","titleAngle":0,"titleAlign":"left","titleBaseline":"alphabetic","titleX":-20,"titleY":274}},
"fill":{"field":"g","type":"nominal","scale":{"domain":["PBS","Vehicle","Holo","Apo","Add-back","Holo-RBP4","Apo-RBP4","Add-Back RBP4"],"range":["#ffffff","#ffffff","#000000","#bebebe","#5a5a5a","#000000","#bebebe","#5a5a5a"]},"legend":null},
"stroke":{"field":"g","type":"nominal","scale":{"domain":["PBS","Vehicle","Holo","Apo","Add-back","Holo-RBP4","Apo-RBP4","Add-Back RBP4"],"range":["#555555","#777777","#000000","#999999","#444444","#000000","#999999","#444444"]},"legend":null}}},
{"transform":[{"filter":"datum.e!=null"}],"mark":{"type":"rule","strokeWidth":1},"encoding":{"x":{"field":"g","type":"nominal","sort":null,"axis":null},"y":{"field":"v","type":"quantitative","axis":null},"y2":{"field":"e"},"color":{"field":"g","type":"nominal","scale":{"domain":["PBS","Vehicle","Holo","Apo","Add-back","Holo-RBP4","Apo-RBP4","Add-Back RBP4"],"range":["#555555","#777777","#000000","#999999","#444444","#000000","#999999","#444444"]},"legend":null}}},
{"transform":[{"filter":"datum.e!=null"}],"mark":{"type":"tick","size":8,"thickness":1},"encoding":{"x":{"field":"g","type":"nominal","sort":null,"axis":null},"y":{"field":"e","type":"quantitative","axis":null},"color":{"field":"g","type":"nominal","scale":{"domain":["PBS","Vehicle","Holo","Apo","Add-back","Holo-RBP4","Apo-RBP4","Add-Back RBP4"],"range":["#555555","#777777","#000000","#999999","#444444","#000000","#999999","#444444"]},"legend":null}}},
{"transform":[{"filter":"datum.s!=''"}],"mark":{"type":"text","fontSize":15,"fontWeight":"bold","baseline":"bottom","dy":4},"encoding":{"x":{"field":"g","type":"nominal","sort":null,"axis":null},"y":{"field":"e","type":"quantitative","axis":null},"text":{"field":"s"}}}
]},

{"data":{"name":"D"},"transform":[{"filter":"datum.p=='MCP-1'"}],"resolve":{"axis":{"x":"independent","y":"independent"}},"layer":[
{"mark":{"type":"bar","strokeWidth":1},"encoding":{
"x":{"field":"g","type":"nominal","sort":null,"scale":{"domain":["Vehicle","Holo-RBP4","Apo-RBP4","Add-Back RBP4"],"range":[257,349],"paddingInner":0.33,"paddingOuter":0.45},"axis":{"orient":"bottom","offset":-207,"labels":false,"title":"MCP-1","titleY":-84}},
"y":{"field":"v","type":"quantitative","scale":{"domain":[0,20.3],"range":[345,284],"nice":false},"axis":{"orient":"left","offset":-257,"values":[0,5,10,15,20],"labelExpr":"datum.value%10==0?datum.label:''","title":"x1000","titleAngle":0,"titleAlign":"left","titleBaseline":"alphabetic","titleX":-14,"titleY":274}},
"fill":{"field":"g","type":"nominal","scale":{"domain":["PBS","Vehicle","Holo","Apo","Add-back","Holo-RBP4","Apo-RBP4","Add-Back RBP4"],"range":["#ffffff","#ffffff","#000000","#bebebe","#5a5a5a","#000000","#bebebe","#5a5a5a"]},"legend":null},
"stroke":{"field":"g","type":"nominal","scale":{"domain":["PBS","Vehicle","Holo","Apo","Add-back","Holo-RBP4","Apo-RBP4","Add-Back RBP4"],"range":["#555555","#777777","#000000","#999999","#444444","#000000","#999999","#444444"]},"legend":null}}},
{"transform":[{"filter":"datum.e!=null"}],"mark":{"type":"rule","strokeWidth":1},"encoding":{"x":{"field":"g","type":"nominal","sort":null,"axis":null},"y":{"field":"v","type":"quantitative","axis":null},"y2":{"field":"e"},"color":{"field":"g","type":"nominal","scale":{"domain":["PBS","Vehicle","Holo","Apo","Add-back","Holo-RBP4","Apo-RBP4","Add-Back RBP4"],"range":["#555555","#777777","#000000","#999999","#444444","#000000","#999999","#444444"]},"legend":null}}},
{"transform":[{"filter":"datum.e!=null"}],"mark":{"type":"tick","size":8,"thickness":1},"encoding":{"x":{"field":"g","type":"nominal","sort":null,"axis":null},"y":{"field":"e","type":"quantitative","axis":null},"color":{"field":"g","type":"nominal","scale":{"domain":["PBS","Vehicle","Holo","Apo","Add-back","Holo-RBP4","Apo-RBP4","Add-Back RBP4"],"range":["#555555","#777777","#000000","#999999","#444444","#000000","#999999","#444444"]},"legend":null}}},
{"transform":[{"filter":"datum.s!=''"}],"mark":{"type":"text","fontSize":15,"fontWeight":"bold","baseline":"bottom","dy":4},"encoding":{"x":{"field":"g","type":"nominal","sort":null,"axis":null},"y":{"field":"e","type":"quantitative","axis":null},"text":{"field":"s"}}}
]},

{"data":{"name":"D"},"transform":[{"filter":"datum.p=='IFNγ'"}],"resolve":{"axis":{"x":"independent","y":"independent"}},"layer":[
{"mark":{"type":"bar","strokeWidth":1},"encoding":{
"x":{"field":"g","type":"nominal","sort":null,"scale":{"domain":["Vehicle","Holo-RBP4","Apo-RBP4","Add-Back RBP4"],"range":[377,463],"paddingInner":0.33,"paddingOuter":0.3},"axis":{"orient":"bottom","offset":-207,"labels":false,"title":"IFNγ","titleY":-84}},
"y":{"field":"v","type":"quantitative","scale":{"domain":[0,1530],"range":[345,284],"nice":false},"axis":{"orient":"left","offset":-377,"values":[0,500,1000,1500],"format":"d","title":null}},
"fill":{"field":"g","type":"nominal","scale":{"domain":["PBS","Vehicle","Holo","Apo","Add-back","Holo-RBP4","Apo-RBP4","Add-Back RBP4"],"range":["#ffffff","#ffffff","#000000","#bebebe","#5a5a5a","#000000","#bebebe","#5a5a5a"]},"legend":null},
"stroke":{"field":"g","type":"nominal","scale":{"domain":["PBS","Vehicle","Holo","Apo","Add-back","Holo-RBP4","Apo-RBP4","Add-Back RBP4"],"range":["#555555","#777777","#000000","#999999","#444444","#000000","#999999","#444444"]},"legend":null}}},
{"transform":[{"filter":"datum.e!=null"}],"mark":{"type":"rule","strokeWidth":1},"encoding":{"x":{"field":"g","type":"nominal","sort":null,"axis":null},"y":{"field":"v","type":"quantitative","axis":null},"y2":{"field":"e"},"color":{"field":"g","type":"nominal","scale":{"domain":["PBS","Vehicle","Holo","Apo","Add-back","Holo-RBP4","Apo-RBP4","Add-Back RBP4"],"range":["#555555","#777777","#000000","#999999","#444444","#000000","#999999","#444444"]},"legend":null}}},
{"transform":[{"filter":"datum.e!=null"}],"mark":{"type":"tick","size":8,"thickness":1},"encoding":{"x":{"field":"g","type":"nominal","sort":null,"axis":null},"y":{"field":"e","type":"quantitative","axis":null},"color":{"field":"g","type":"nominal","scale":{"domain":["PBS","Vehicle","Holo","Apo","Add-back","Holo-RBP4","Apo-RBP4","Add-Back RBP4"],"range":["#555555","#777777","#000000","#999999","#444444","#000000","#999999","#444444"]},"legend":null}}},
{"transform":[{"filter":"datum.s!=''"}],"mark":{"type":"text","fontSize":15,"fontWeight":"bold","baseline":"bottom","dy":4},"encoding":{"x":{"field":"g","type":"nominal","sort":null,"axis":null},"y":{"field":"e","type":"quantitative","axis":null},"text":{"field":"s"}}}
]},

{"data":{"name":"D"},"transform":[{"filter":"datum.p=='GM-CSF'"}],"resolve":{"axis":{"x":"independent","y":"independent"}},"layer":[
{"mark":{"type":"bar","strokeWidth":1},"encoding":{
"x":{"field":"g","type":"nominal","sort":null,"scale":{"domain":["Vehicle","Holo-RBP4","Apo-RBP4","Add-Back RBP4"],"range":[490,575],"paddingInner":0.33,"paddingOuter":0.25},"axis":{"orient":"bottom","offset":-207,"labels":false,"title":"GM-CSF","titleY":-84}},
"y":{"field":"v","type":"quantitative","scale":{"domain":[0,1000],"range":[345,284],"nice":false},"axis":{"orient":"left","offset":-490,"values":[0,200,400,600,800,1000],"labelExpr":"datum.value%400==0?datum.label:''","title":null}},
"fill":{"field":"g","type":"nominal","scale":{"domain":["PBS","Vehicle","Holo","Apo","Add-back","Holo-RBP4","Apo-RBP4","Add-Back RBP4"],"range":["#ffffff","#ffffff","#000000","#bebebe","#5a5a5a","#000000","#bebebe","#5a5a5a"]},"legend":null},
"stroke":{"field":"g","type":"nominal","scale":{"domain":["PBS","Vehicle","Holo","Apo","Add-back","Holo-RBP4","Apo-RBP4","Add-Back RBP4"],"range":["#555555","#777777","#000000","#999999","#444444","#000000","#999999","#444444"]},"legend":null}}},
{"transform":[{"filter":"datum.e!=null"}],"mark":{"type":"rule","strokeWidth":1},"encoding":{"x":{"field":"g","type":"nominal","sort":null,"axis":null},"y":{"field":"v","type":"quantitative","axis":null},"y2":{"field":"e"},"color":{"field":"g","type":"nominal","scale":{"domain":["PBS","Vehicle","Holo","Apo","Add-back","Holo-RBP4","Apo-RBP4","Add-Back RBP4"],"range":["#555555","#777777","#000000","#999999","#444444","#000000","#999999","#444444"]},"legend":null}}},
{"transform":[{"filter":"datum.e!=null"}],"mark":{"type":"tick","size":8,"thickness":1},"encoding":{"x":{"field":"g","type":"nominal","sort":null,"axis":null},"y":{"field":"e","type":"quantitative","axis":null},"color":{"field":"g","type":"nominal","scale":{"domain":["PBS","Vehicle","Holo","Apo","Add-back","Holo-RBP4","Apo-RBP4","Add-Back RBP4"],"range":["#555555","#777777","#000000","#999999","#444444","#000000","#999999","#444444"]},"legend":null}}},
{"transform":[{"filter":"datum.s!=''"}],"mark":{"type":"text","fontSize":15,"fontWeight":"bold","baseline":"bottom","dy":4},"encoding":{"x":{"field":"g","type":"nominal","sort":null,"axis":null},"y":{"field":"e","type":"quantitative","axis":null},"text":{"field":"s"}}}
]},

{"data":{"name":"D"},"transform":[{"filter":"datum.p=='IL-1β'"}],"resolve":{"axis":{"x":"independent","y":"independent"}},"layer":[
{"mark":{"type":"bar","strokeWidth":1},"encoding":{
"x":{"field":"g","type":"nominal","sort":null,"scale":{"domain":["Vehicle","Holo-RBP4","Apo-RBP4","Add-Back RBP4"],"range":[42,124],"paddingInner":0.33,"paddingOuter":0.15},"axis":{"orient":"bottom","offset":-111,"labels":false,"title":"IL-1β","titleY":-69}},
"y":{"field":"v","type":"quantitative","scale":{"domain":[0,200],"range":[441,379],"nice":false},"axis":{"orient":"left","offset":-42,"values":[0,50,100,150,200],"labelExpr":"datum.value%100==0?datum.label:''","title":null}},
"fill":{"field":"g","type":"nominal","scale":{"domain":["PBS","Vehicle","Holo","Apo","Add-back","Holo-RBP4","Apo-RBP4","Add-Back RBP4"],"range":["#ffffff","#ffffff","#000000","#bebebe","#5a5a5a","#000000","#bebebe","#5a5a5a"]},"legend":null},
"stroke":{"field":"g","type":"nominal","scale":{"domain":["PBS","Vehicle","Holo","Apo","Add-back","Holo-RBP4","Apo-RBP4","Add-Back RBP4"],"range":["#555555","#777777","#000000","#999999","#444444","#000000","#999999","#444444"]},"legend":null}}},
{"transform":[{"filter":"datum.e!=null"}],"mark":{"type":"rule","strokeWidth":1},"encoding":{"x":{"field":"g","type":"nominal","sort":null,"axis":null},"y":{"field":"v","type":"quantitative","axis":null},"y2":{"field":"e"},"color":{"field":"g","type":"nominal","scale":{"domain":["PBS","Vehicle","Holo","Apo","Add-back","Holo-RBP4","Apo-RBP4","Add-Back RBP4"],"range":["#555555","#777777","#000000","#999999","#444444","#000000","#999999","#444444"]},"legend":null}}},
{"transform":[{"filter":"datum.e!=null"}],"mark":{"type":"tick","size":8,"thickness":1},"encoding":{"x":{"field":"g","type":"nominal","sort":null,"axis":null},"y":{"field":"e","type":"quantitative","axis":null},"color":{"field":"g","type":"nominal","scale":{"domain":["PBS","Vehicle","Holo","Apo","Add-back","Holo-RBP4","Apo-RBP4","Add-Back RBP4"],"range":["#555555","#777777","#000000","#999999","#444444","#000000","#999999","#444444"]},"legend":null}}},
{"transform":[{"filter":"datum.s!=''"}],"mark":{"type":"text","fontSize":15,"fontWeight":"bold","baseline":"bottom","dy":4},"encoding":{
"x":{"field":"g","type":"nominal","sort":null,"axis":null},
"y":{"field":"e","type":"quantitative","axis":{"orient":"left","offset":-42,"domain":false,"ticks":false,"labels":false,"title":["Secreted Protein","(pg/ml)"],"titleAlign":"center","titleBaseline":"top","titleX":-39,"titleY":410,"titleFontSize":10.5,"titleLineHeight":12}},
"text":{"field":"s"}}}
]},

{"data":{"name":"D"},"transform":[{"filter":"datum.p=='IL-2'"}],"resolve":{"axis":{"x":"independent","y":"independent"}},"layer":[
{"mark":{"type":"bar","strokeWidth":1},"encoding":{
"x":{"field":"g","type":"nominal","sort":null,"scale":{"domain":["Vehicle","Holo-RBP4","Apo-RBP4","Add-Back RBP4"],"range":[152,237],"paddingInner":0.33,"paddingOuter":0.25},"axis":{"orient":"bottom","offset":-111,"labels":false,"title":"IL-2","titleY":-69}},
"y":{"field":"v","type":"quantitative","scale":{"domain":[0,51.6],"range":[441,379],"nice":false},"axis":{"orient":"left","offset":-152,"values":[0,10,20,30,40],"labelExpr":"datum.value%20==0?datum.label:''","title":null}},
"fill":{"field":"g","type":"nominal","scale":{"domain":["PBS","Vehicle","Holo","Apo","Add-back","Holo-RBP4","Apo-RBP4","Add-Back RBP4"],"range":["#ffffff","#ffffff","#000000","#bebebe","#5a5a5a","#000000","#bebebe","#5a5a5a"]},"legend":null},
"stroke":{"field":"g","type":"nominal","scale":{"domain":["PBS","Vehicle","Holo","Apo","Add-back","Holo-RBP4","Apo-RBP4","Add-Back RBP4"],"range":["#555555","#777777","#000000","#999999","#444444","#000000","#999999","#444444"]},"legend":null}}},
{"transform":[{"filter":"datum.e!=null"}],"mark":{"type":"rule","strokeWidth":1},"encoding":{"x":{"field":"g","type":"nominal","sort":null,"axis":null},"y":{"field":"v","type":"quantitative","axis":null},"y2":{"field":"e"},"color":{"field":"g","type":"nominal","scale":{"domain":["PBS","Vehicle","Holo","Apo","Add-back","Holo-RBP4","Apo-RBP4","Add-Back RBP4"],"range":["#555555","#777777","#000000","#999999","#444444","#000000","#999999","#444444"]},"legend":null}}},
{"transform":[{"filter":"datum.e!=null"}],"mark":{"type":"tick","size":8,"thickness":1},"encoding":{"x":{"field":"g","type":"nominal","sort":null,"axis":null},"y":{"field":"e","type":"quantitative","axis":null},"color":{"field":"g","type":"nominal","scale":{"domain":["PBS","Vehicle","Holo","Apo","Add-back","Holo-RBP4","Apo-RBP4","Add-Back RBP4"],"range":["#555555","#777777","#000000","#999999","#444444","#000000","#999999","#444444"]},"legend":null}}},
{"transform":[{"filter":"datum.s!=''"}],"mark":{"type":"text","fontSize":15,"fontWeight":"bold","baseline":"bottom","dy":4},"encoding":{"x":{"field":"g","type":"nominal","sort":null,"axis":null},"y":{"field":"e","type":"quantitative","axis":null},"text":{"field":"s"}}}
]},

{"data":{"name":"D"},"transform":[{"filter":"datum.p=='IL-12p70'"}],"resolve":{"axis":{"x":"independent","y":"independent"}},"layer":[
{"mark":{"type":"bar","strokeWidth":1},"encoding":{
"x":{"field":"g","type":"nominal","sort":null,"scale":{"domain":["Vehicle","Holo-RBP4","Apo-RBP4","Add-Back RBP4"],"range":[266,356],"paddingInner":0.33,"paddingOuter":0.2},"axis":{"orient":"bottom","offset":-111,"labels":false,"title":"IL-12p70","titleY":-69}},
"y":{"field":"v","type":"quantitative","scale":{"domain":[0,150],"range":[441,379],"nice":false},"axis":{"orient":"left","offset":-266,"values":[0,50,100,150],"title":null}},
"fill":{"field":"g","type":"nominal","scale":{"domain":["PBS","Vehicle","Holo","Apo","Add-back","Holo-RBP4","Apo-RBP4","Add-Back RBP4"],"range":["#ffffff","#ffffff","#000000","#bebebe","#5a5a5a","#000000","#bebebe","#5a5a5a"]},"legend":null},
"stroke":{"field":"g","type":"nominal","scale":{"domain":["PBS","Vehicle","Holo","Apo","Add-back","Holo-RBP4","Apo-RBP4","Add-Back RBP4"],"range":["#555555","#777777","#000000","#999999","#444444","#000000","#999999","#444444"]},"legend":null}}},
{"transform":[{"filter":"datum.e!=null"}],"mark":{"type":"rule","strokeWidth":1},"encoding":{"x":{"field":"g","type":"nominal","sort":null,"axis":null},"y":{"field":"v","type":"quantitative","axis":null},"y2":{"field":"e"},"color":{"field":"g","type":"nominal","scale":{"domain":["PBS","Vehicle","Holo","Apo","Add-back","Holo-RBP4","Apo-RBP4","Add-Back RBP4"],"range":["#555555","#777777","#000000","#999999","#444444","#000000","#999999","#444444"]},"legend":null}}},
{"transform":[{"filter":"datum.e!=null"}],"mark":{"type":"tick","size":8,"thickness":1},"encoding":{"x":{"field":"g","type":"nominal","sort":null,"axis":null},"y":{"field":"e","type":"quantitative","axis":null},"color":{"field":"g","type":"nominal","scale":{"domain":["PBS","Vehicle","Holo","Apo","Add-back","Holo-RBP4","Apo-RBP4","Add-Back RBP4"],"range":["#555555","#777777","#000000","#999999","#444444","#000000","#999999","#444444"]},"legend":null}}},
{"transform":[{"filter":"datum.s!=''"}],"mark":{"type":"text","fontSize":15,"fontWeight":"bold","baseline":"bottom","dy":4},"encoding":{"x":{"field":"g","type":"nominal","sort":null,"axis":null},"y":{"field":"e","type":"quantitative","axis":null},"text":{"field":"s"}}}
]},

{"data":{"name":"D"},"transform":[{"filter":"datum.p=='IL-8'"}],"resolve":{"axis":{"x":"independent","y":"independent"}},"layer":[
{"mark":{"type":"bar","strokeWidth":1},"encoding":{
"x":{"field":"g","type":"nominal","sort":null,"scale":{"domain":["Vehicle","Holo-RBP4","Apo-RBP4","Add-Back RBP4"],"range":[383,466],"paddingInner":0.33,"paddingOuter":0.15},"axis":{"orient":"bottom","offset":-111,"labels":false,"title":"IL-8","titleY":-69}},
"y":{"field":"v","type":"quantitative","scale":{"domain":[0,2000],"range":[441,379],"nice":false},"axis":{"orient":"left","offset":-383,"values":[0,500,1000,1500,2000],"labelExpr":"datum.value%1000==0?format(datum.value,'d'):''","title":null}},
"fill":{"field":"g","type":"nominal","scale":{"domain":["PBS","Vehicle","Holo","Apo","Add-back","Holo-RBP4","Apo-RBP4","Add-Back RBP4"],"range":["#ffffff","#ffffff","#000000","#bebebe","#5a5a5a","#000000","#bebebe","#5a5a5a"]},"legend":null},
"stroke":{"field":"g","type":"nominal","scale":{"domain":["PBS","Vehicle","Holo","Apo","Add-back","Holo-RBP4","Apo-RBP4","Add-Back RBP4"],"range":["#555555","#777777","#000000","#999999","#444444","#000000","#999999","#444444"]},"legend":null}}},
{"transform":[{"filter":"datum.e!=null"}],"mark":{"type":"rule","strokeWidth":1},"encoding":{"x":{"field":"g","type":"nominal","sort":null,"axis":null},"y":{"field":"v","type":"quantitative","axis":null},"y2":{"field":"e"},"color":{"field":"g","type":"nominal","scale":{"domain":["PBS","Vehicle","Holo","Apo","Add-back","Holo-RBP4","Apo-RBP4","Add-Back RBP4"],"range":["#555555","#777777","#000000","#999999","#444444","#000000","#999999","#444444"]},"legend":null}}},
{"transform":[{"filter":"datum.e!=null"}],"mark":{"type":"tick","size":8,"thickness":1},"encoding":{"x":{"field":"g","type":"nominal","sort":null,"axis":null},"y":{"field":"e","type":"quantitative","axis":null},"color":{"field":"g","type":"nominal","scale":{"domain":["PBS","Vehicle","Holo","Apo","Add-back","Holo-RBP4","Apo-RBP4","Add-Back RBP4"],"range":["#555555","#777777","#000000","#999999","#444444","#000000","#999999","#444444"]},"legend":null}}}
]},

{"data":{"name":"D"},"transform":[{"filter":"datum.p=='IL-10'"}],"resolve":{"axis":{"x":"independent","y":"independent"}},"layer":[
{"mark":{"type":"bar","strokeWidth":1},"encoding":{
"x":{"field":"g","type":"nominal","sort":null,"scale":{"domain":["Vehicle","Holo-RBP4","Apo-RBP4","Add-Back RBP4"],"range":[490,580],"paddingInner":0.33,"paddingOuter":0.25},"axis":{"orient":"bottom","offset":-111,"labels":false,"title":"IL-10","titleY":-69}},
"y":{"field":"v","type":"quantitative","scale":{"domain":[0,400],"range":[441,379],"nice":false},"axis":{"orient":"left","offset":-490,"values":[0,100,200,300,400],"labelExpr":"datum.value%200==0?datum.label:''","title":null}},
"fill":{"field":"g","type":"nominal","scale":{"domain":["PBS","Vehicle","Holo","Apo","Add-back","Holo-RBP4","Apo-RBP4","Add-Back RBP4"],"range":["#ffffff","#ffffff","#000000","#bebebe","#5a5a5a","#000000","#bebebe","#5a5a5a"]},"legend":null},
"stroke":{"field":"g","type":"nominal","scale":{"domain":["PBS","Vehicle","Holo","Apo","Add-back","Holo-RBP4","Apo-RBP4","Add-Back RBP4"],"range":["#555555","#777777","#000000","#999999","#444444","#000000","#999999","#444444"]},"legend":null}}},
{"transform":[{"filter":"datum.e!=null"}],"mark":{"type":"rule","strokeWidth":1},"encoding":{"x":{"field":"g","type":"nominal","sort":null,"axis":null},"y":{"field":"v","type":"quantitative","axis":null},"y2":{"field":"e"},"color":{"field":"g","type":"nominal","scale":{"domain":["PBS","Vehicle","Holo","Apo","Add-back","Holo-RBP4","Apo-RBP4","Add-Back RBP4"],"range":["#555555","#777777","#000000","#999999","#444444","#000000","#999999","#444444"]},"legend":null}}},
{"transform":[{"filter":"datum.e!=null"}],"mark":{"type":"tick","size":8,"thickness":1},"encoding":{"x":{"field":"g","type":"nominal","sort":null,"axis":null},"y":{"field":"e","type":"quantitative","axis":null},"color":{"field":"g","type":"nominal","scale":{"domain":["PBS","Vehicle","Holo","Apo","Add-back","Holo-RBP4","Apo-RBP4","Add-Back RBP4"],"range":["#555555","#777777","#000000","#999999","#444444","#000000","#999999","#444444"]},"legend":null}}},
{"transform":[{"filter":"datum.s!=''"}],"mark":{"type":"text","fontSize":15,"fontWeight":"bold","baseline":"bottom","dy":4},"encoding":{"x":{"field":"g","type":"nominal","sort":null,"axis":null},"y":{"field":"e","type":"quantitative","axis":null},"text":{"field":"s"}}}
]},

{"data":{"name":"E"},"transform":[{"filter":"datum.p=='TNFα'"}],"resolve":{"axis":{"x":"independent","y":"independent"}},"layer":[
{"mark":{"type":"bar","strokeWidth":1},"encoding":{
"x":{"field":"g","type":"nominal","sort":null,"scale":{"domain":["Vehicle","Holo-RBP4","Apo-RBP4","Add-Back RBP4"],"range":[42,131],"paddingInner":0.3,"paddingOuter":0.13},"axis":{"orient":"bottom","offset":-5,"labels":false,"title":"TNFα","titleY":-75}},
"y":{"field":"v","type":"quantitative","scale":{"domain":[0,30.5],"range":[547,483],"nice":false},"axis":{"orient":"left","offset":-42,"values":[0,10,20,30],"title":null}},
"fill":{"field":"g","type":"nominal","scale":{"domain":["PBS","Vehicle","Holo","Apo","Add-back","Holo-RBP4","Apo-RBP4","Add-Back RBP4"],"range":["#ffffff","#ffffff","#000000","#bebebe","#5a5a5a","#000000","#bebebe","#5a5a5a"]},"legend":null},
"stroke":{"field":"g","type":"nominal","scale":{"domain":["PBS","Vehicle","Holo","Apo","Add-back","Holo-RBP4","Apo-RBP4","Add-Back RBP4"],"range":["#555555","#777777","#000000","#999999","#444444","#000000","#999999","#444444"]},"legend":null}}},
{"transform":[{"filter":"datum.e!=null"}],"mark":{"type":"rule","strokeWidth":1},"encoding":{"x":{"field":"g","type":"nominal","sort":null,"axis":null},"y":{"field":"v","type":"quantitative","axis":null},"y2":{"field":"e"},"color":{"field":"g","type":"nominal","scale":{"domain":["PBS","Vehicle","Holo","Apo","Add-back","Holo-RBP4","Apo-RBP4","Add-Back RBP4"],"range":["#555555","#777777","#000000","#999999","#444444","#000000","#999999","#444444"]},"legend":null}}},
{"transform":[{"filter":"datum.e!=null"}],"mark":{"type":"tick","size":9,"thickness":1},"encoding":{"x":{"field":"g","type":"nominal","sort":null,"axis":null},"y":{"field":"e","type":"quantitative","axis":null},"color":{"field":"g","type":"nominal","scale":{"domain":["PBS","Vehicle","Holo","Apo","Add-back","Holo-RBP4","Apo-RBP4","Add-Back RBP4"],"range":["#555555","#777777","#000000","#999999","#444444","#000000","#999999","#444444"]},"legend":null}}},
{"transform":[{"filter":"datum.s!=''"}],"mark":{"type":"text","fontSize":15,"fontWeight":"bold","baseline":"bottom","dy":4},"encoding":{
"x":{"field":"g","type":"nominal","sort":null,"axis":{"orient":"bottom","offset":-5,"domain":false,"ticks":false,"labels":false,"title":"E","titleX":0,"titleY":-78,"titleAlign":"left","titleFontSize":17}},
"y":{"field":"e","type":"quantitative","axis":{"orient":"left","offset":-42,"domain":false,"ticks":false,"labels":false,"title":"mRNA (AU)","titleAlign":"center","titleBaseline":"top","titleX":-27,"titleY":503,"titleFontSize":10}},
"text":{"field":"s"}}}
]},

{"data":{"name":"E"},"transform":[{"filter":"datum.p=='IL-6' && datum.g!='Vehicle'"}],"resolve":{"axis":{"x":"independent","y":"independent"}},"layer":[
{"mark":{"type":"bar","strokeWidth":1},"encoding":{
"x":{"field":"g","type":"nominal","sort":null,"scale":{"domain":["Holo-RBP4","Apo-RBP4","Add-Back RBP4"],"range":[162,246],"paddingInner":0.3,"paddingOuter":0.3},"axis":{"orient":"bottom","offset":-5,"labels":false,"title":"IL-6","titleY":-75}},
"y":{"field":"v","type":"quantitative","scale":{"domain":[0,41.3],"range":[547,483],"nice":false},"axis":{"orient":"left","offset":-162,"values":[0,10,20,30,40],"labelExpr":"datum.value%20==0?datum.label:''","title":"x1000","titleAngle":0,"titleAlign":"left","titleBaseline":"alphabetic","titleX":-24,"titleY":473}},
"fill":{"field":"g","type":"nominal","scale":{"domain":["PBS","Vehicle","Holo","Apo","Add-back","Holo-RBP4","Apo-RBP4","Add-Back RBP4"],"range":["#ffffff","#ffffff","#000000","#bebebe","#5a5a5a","#000000","#bebebe","#5a5a5a"]},"legend":null},
"stroke":{"field":"g","type":"nominal","scale":{"domain":["PBS","Vehicle","Holo","Apo","Add-back","Holo-RBP4","Apo-RBP4","Add-Back RBP4"],"range":["#555555","#777777","#000000","#999999","#444444","#000000","#999999","#444444"]},"legend":null}}},
{"transform":[{"filter":"datum.e!=null"}],"mark":{"type":"rule","strokeWidth":1},"encoding":{"x":{"field":"g","type":"nominal","sort":null,"axis":null},"y":{"field":"v","type":"quantitative","axis":null},"y2":{"field":"e"},"color":{"field":"g","type":"nominal","scale":{"domain":["PBS","Vehicle","Holo","Apo","Add-back","Holo-RBP4","Apo-RBP4","Add-Back RBP4"],"range":["#555555","#777777","#000000","#999999","#444444","#000000","#999999","#444444"]},"legend":null}}},
{"transform":[{"filter":"datum.e!=null"}],"mark":{"type":"tick","size":9,"thickness":1},"encoding":{"x":{"field":"g","type":"nominal","sort":null,"axis":null},"y":{"field":"e","type":"quantitative","axis":null},"color":{"field":"g","type":"nominal","scale":{"domain":["PBS","Vehicle","Holo","Apo","Add-back","Holo-RBP4","Apo-RBP4","Add-Back RBP4"],"range":["#555555","#777777","#000000","#999999","#444444","#000000","#999999","#444444"]},"legend":null}}},
{"transform":[{"filter":"datum.s!=''"}],"mark":{"type":"text","fontSize":15,"fontWeight":"bold","baseline":"bottom","dy":4},"encoding":{"x":{"field":"g","type":"nominal","sort":null,"axis":null},"y":{"field":"e","type":"quantitative","axis":null},"text":{"field":"s"}}}
]},

{"data":{"name":"E"},"transform":[{"filter":"datum.p=='MCP-1'"}],"resolve":{"axis":{"x":"independent","y":"independent"}},"layer":[
{"mark":{"type":"bar","strokeWidth":1},"encoding":{
"x":{"field":"g","type":"nominal","sort":null,"scale":{"domain":["Vehicle","Holo-RBP4","Apo-RBP4","Add-Back RBP4"],"range":[275,362],"paddingInner":0.3,"paddingOuter":0.15},"axis":{"orient":"bottom","offset":-5,"labels":false,"title":"MCP-1","titleY":-75}},
"y":{"field":"v","type":"quantitative","scale":{"domain":[0,30.5],"range":[547,483],"nice":false},"axis":{"orient":"left","offset":-275,"values":[0,10,20,30],"title":null}},
"fill":{"field":"g","type":"nominal","scale":{"domain":["PBS","Vehicle","Holo","Apo","Add-back","Holo-RBP4","Apo-RBP4","Add-Back RBP4"],"range":["#ffffff","#ffffff","#000000","#bebebe","#5a5a5a","#000000","#bebebe","#5a5a5a"]},"legend":null},
"stroke":{"field":"g","type":"nominal","scale":{"domain":["PBS","Vehicle","Holo","Apo","Add-back","Holo-RBP4","Apo-RBP4","Add-Back RBP4"],"range":["#555555","#777777","#000000","#999999","#444444","#000000","#999999","#444444"]},"legend":null}}},
{"transform":[{"filter":"datum.e!=null"}],"mark":{"type":"rule","strokeWidth":1},"encoding":{"x":{"field":"g","type":"nominal","sort":null,"axis":null},"y":{"field":"v","type":"quantitative","axis":null},"y2":{"field":"e"},"color":{"field":"g","type":"nominal","scale":{"domain":["PBS","Vehicle","Holo","Apo","Add-back","Holo-RBP4","Apo-RBP4","Add-Back RBP4"],"range":["#555555","#777777","#000000","#999999","#444444","#000000","#999999","#444444"]},"legend":null}}},
{"transform":[{"filter":"datum.e!=null"}],"mark":{"type":"tick","size":9,"thickness":1},"encoding":{"x":{"field":"g","type":"nominal","sort":null,"axis":null},"y":{"field":"e","type":"quantitative","axis":null},"color":{"field":"g","type":"nominal","scale":{"domain":["PBS","Vehicle","Holo","Apo","Add-back","Holo-RBP4","Apo-RBP4","Add-Back RBP4"],"range":["#555555","#777777","#000000","#999999","#444444","#000000","#999999","#444444"]},"legend":null}}},
{"transform":[{"filter":"datum.s!=''"}],"mark":{"type":"text","fontSize":15,"fontWeight":"bold","baseline":"bottom","dy":4},"encoding":{"x":{"field":"g","type":"nominal","sort":null,"axis":null},"y":{"field":"e","type":"quantitative","axis":null},"text":{"field":"s"}}}
]},

{"data":{"name":"E"},"transform":[{"filter":"datum.p=='IL-1β' && datum.g!='Vehicle'"}],"resolve":{"axis":{"x":"independent","y":"independent"}},"layer":[
{"mark":{"type":"bar","strokeWidth":1},"encoding":{
"x":{"field":"g","type":"nominal","sort":null,"scale":{"domain":["Holo-RBP4","Apo-RBP4","Add-Back RBP4"],"range":[405,480],"paddingInner":0.32,"paddingOuter":0.5},"axis":{"orient":"bottom","offset":-5,"labels":false,"title":"IL-1β","titleY":-75}},
"y":{"field":"v","type":"quantitative","scale":{"domain":[0,100],"range":[547,483],"nice":false},"axis":{"orient":"left","offset":-405,"values":[0,20,40,60,80,100],"labelExpr":"datum.value%40==0?datum.label:''","title":"x1000","titleAngle":0,"titleAlign":"left","titleBaseline":"alphabetic","titleX":-18,"titleY":473}},
"fill":{"field":"g","type":"nominal","scale":{"domain":["PBS","Vehicle","Holo","Apo","Add-back","Holo-RBP4","Apo-RBP4","Add-Back RBP4"],"range":["#ffffff","#ffffff","#000000","#bebebe","#5a5a5a","#000000","#bebebe","#5a5a5a"]},"legend":null},
"stroke":{"field":"g","type":"nominal","scale":{"domain":["PBS","Vehicle","Holo","Apo","Add-back","Holo-RBP4","Apo-RBP4","Add-Back RBP4"],"range":["#555555","#777777","#000000","#999999","#444444","#000000","#999999","#444444"]},"legend":null}}},
{"transform":[{"filter":"datum.e!=null"}],"mark":{"type":"rule","strokeWidth":1},"encoding":{"x":{"field":"g","type":"nominal","sort":null,"axis":null},"y":{"field":"v","type":"quantitative","axis":null},"y2":{"field":"e"},"color":{"field":"g","type":"nominal","scale":{"domain":["PBS","Vehicle","Holo","Apo","Add-back","Holo-RBP4","Apo-RBP4","Add-Back RBP4"],"range":["#555555","#777777","#000000","#999999","#444444","#000000","#999999","#444444"]},"legend":null}}},
{"transform":[{"filter":"datum.e!=null"}],"mark":{"type":"tick","size":9,"thickness":1},"encoding":{"x":{"field":"g","type":"nominal","sort":null,"axis":null},"y":{"field":"e","type":"quantitative","axis":null},"color":{"field":"g","type":"nominal","scale":{"domain":["PBS","Vehicle","Holo","Apo","Add-back","Holo-RBP4","Apo-RBP4","Add-Back RBP4"],"range":["#555555","#777777","#000000","#999999","#444444","#000000","#999999","#444444"]},"legend":null}}},
{"transform":[{"filter":"datum.s!=''"}],"mark":{"type":"text","fontSize":15,"fontWeight":"bold","baseline":"bottom","dy":4},"encoding":{"x":{"field":"g","type":"nominal","sort":null,"axis":null},"y":{"field":"e","type":"quantitative","axis":null},"text":{"field":"s"}}}
]},

{"data":{"name":"E"},"transform":[{"filter":"datum.p=='PPARγ'"}],"resolve":{"axis":{"x":"independent","y":"independent"}},"layer":[
{"mark":{"type":"bar","strokeWidth":1},"encoding":{
"x":{"field":"g","type":"nominal","sort":null,"scale":{"domain":["Vehicle","Holo-RBP4","Apo-RBP4","Add-Back RBP4"],"range":[517,595],"paddingInner":0.3,"paddingOuter":0.05},"axis":{"orient":"bottom","offset":-5,"labels":false,"title":"PPARγ","titleY":-75}},
"y":{"field":"v","type":"quantitative","scale":{"domain":[0,1.32],"range":[547,483],"nice":false},"axis":{"orient":"left","offset":-517,"values":[0,0.5,1],"labelExpr":"datum.value==0?'0':format(datum.value,'.1f')","title":null}},
"fill":{"field":"g","type":"nominal","scale":{"domain":["PBS","Vehicle","Holo","Apo","Add-back","Holo-RBP4","Apo-RBP4","Add-Back RBP4"],"range":["#ffffff","#ffffff","#000000","#bebebe","#5a5a5a","#000000","#bebebe","#5a5a5a"]},"legend":null},
"stroke":{"field":"g","type":"nominal","scale":{"domain":["PBS","Vehicle","Holo","Apo","Add-back","Holo-RBP4","Apo-RBP4","Add-Back RBP4"],"range":["#555555","#777777","#000000","#999999","#444444","#000000","#999999","#444444"]},"legend":null}}},
{"transform":[{"filter":"datum.e!=null"}],"mark":{"type":"rule","strokeWidth":1},"encoding":{"x":{"field":"g","type":"nominal","sort":null,"axis":null},"y":{"field":"v","type":"quantitative","axis":null},"y2":{"field":"e"},"color":{"field":"g","type":"nominal","scale":{"domain":["PBS","Vehicle","Holo","Apo","Add-back","Holo-RBP4","Apo-RBP4","Add-Back RBP4"],"range":["#555555","#777777","#000000","#999999","#444444","#000000","#999999","#444444"]},"legend":null}}},
{"transform":[{"filter":"datum.e!=null"}],"mark":{"type":"tick","size":9,"thickness":1},"encoding":{"x":{"field":"g","type":"nominal","sort":null,"axis":null},"y":{"field":"e","type":"quantitative","axis":null},"color":{"field":"g","type":"nominal","scale":{"domain":["PBS","Vehicle","Holo","Apo","Add-back","Holo-RBP4","Apo-RBP4","Add-Back RBP4"],"range":["#555555","#777777","#000000","#999999","#444444","#000000","#999999","#444444"]},"legend":null}}},
{"transform":[{"filter":"datum.s!=''"}],"mark":{"type":"text","fontSize":15,"fontWeight":"bold","baseline":"bottom","dy":4},"encoding":{"x":{"field":"g","type":"nominal","sort":null,"axis":null},"y":{"field":"e","type":"quantitative","axis":null},"text":{"field":"s"}}}
]}

],
"config": {
"font": "Liberation Sans",
"view": {"stroke": null},
"axis": {"labelFont": "Liberation Sans", "titleFont": "Liberation Sans", "labelColor": "#000", "titleColor": "#000", "grid": false, "domainColor": "#555", "tickColor": "#555"},
"axisY": {"tickSize": 4, "labelFontSize": 10, "labelFontWeight": "bold", "labelPadding": 1, "titleFontSize": 9, "titleFontWeight": "bold"},
"axisX": {"ticks": false, "labelFontSize": 11, "labelFontWeight": "bold", "labelAngle": 0, "labelPadding": 2, "titleFontSize": 15, "titleFontWeight": "bold", "titleBaseline": "alphabetic"},
"text": {"font": "Liberation Sans", "color": "#000"},
"legend": {"labelFont": "Liberation Sans", "titleFont": "Liberation Sans"}
}
}
